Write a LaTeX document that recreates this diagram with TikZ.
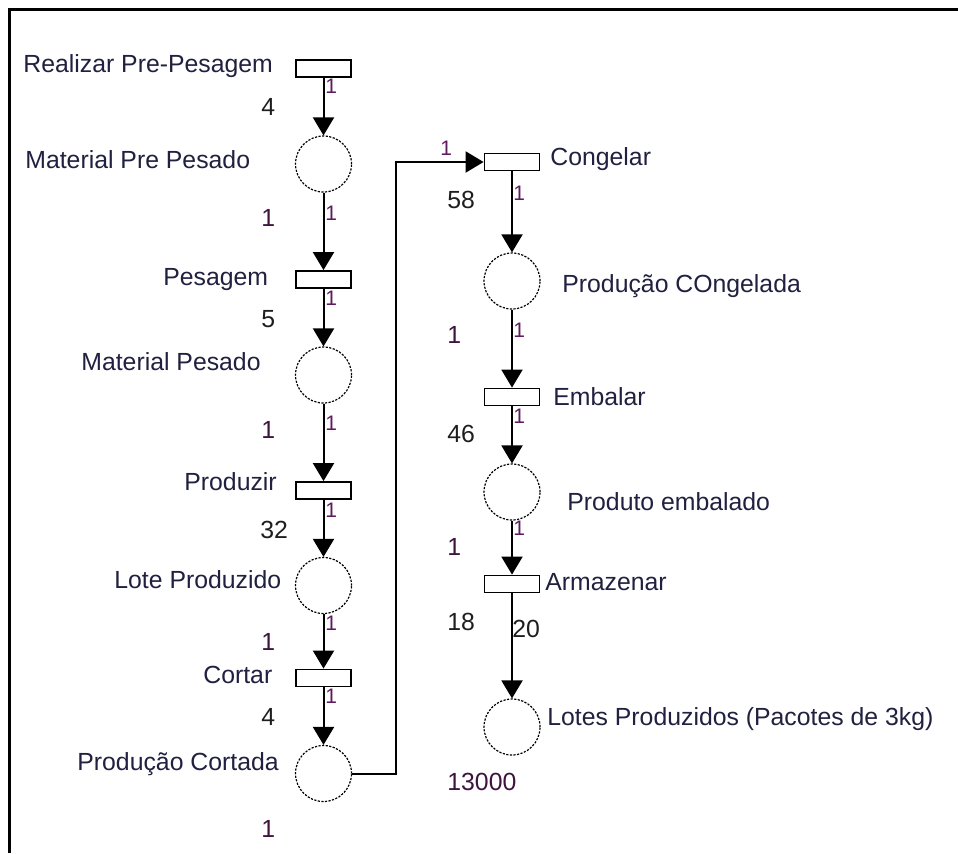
\documentclass[tikz,border=0pt]{standalone}
\usepackage{fontspec}
\setmainfont{Liberation Sans}
\usetikzlibrary{arrows.meta}
\definecolor{namecol}{HTML}{202040}
\definecolor{numcol}{HTML}{1E1E1E}
\definecolor{tokcol}{HTML}{3E143E}
\definecolor{wcol}{HTML}{5E1A5E}
\begin{document}
\begin{tikzpicture}[x=0.5pt,y=-0.5pt,
  trans/.style={draw, line width=0.9pt, minimum width=27.5pt, minimum height=8.5pt, inner sep=0pt, fill=white},
  place/.style={circle, draw, dash pattern=on 1.1pt off 0.7pt, line width=0.6pt, minimum size=28pt, inner sep=0pt},
  arc/.style={line width=1pt, -{Triangle[width=10.5pt,length=9pt]}},
  lbl/.style={anchor=base west, inner sep=0pt, text=namecol, font=\fontsize{12.4}{14}\selectfont},
  num/.style={anchor=base west, inner sep=0pt, text=numcol, font=\fontsize{12.4}{14}\selectfont},
  tok/.style={anchor=base west, inner sep=0pt, text=tokcol, font=\fontsize{12.4}{14}\selectfont},
  wgt/.style={anchor=base west, inner sep=0pt, text=wcol, font=\fontsize{10.5}{12}\selectfont}
]
\useasboundingbox (0,0) rectangle (958,853);
\fill[white] (0,0) rectangle (958,853);
\draw[line width=1.5pt] (9,853) -- (9,9) -- (958,9);

% left column
\node[trans] (T1) at (323.5,68.5) {};
\node[place] (P1) at (323.5,164) {};
\node[trans] (T2) at (323.5,279.5) {};
\node[place] (P2) at (323.5,375) {};
\node[trans] (T3) at (323.5,490.5) {};
\node[place] (P3) at (323.5,585.5) {};
\node[trans] (T4) at (323.5,678) {};
\node[place] (P4) at (323.5,773.5) {};
% right column
\node[trans] (T5) at (512,162) {};
\node[place] (P5) at (512,281) {};
\node[trans] (T6) at (512,397) {};
\node[place] (P6) at (512,492) {};
\node[trans] (T7) at (512,584) {};
\node[place] (P7) at (512,727) {};

\coordinate (c1) at (396,773.5);
\coordinate (c2) at (396,162);

\draw[arc] (T1) -- (P1);
\draw[arc] (P1) -- (T2);
\draw[arc] (T2) -- (P2);
\draw[arc] (P2) -- (T3);
\draw[arc] (T3) -- (P3);
\draw[arc] (P3) -- (T4);
\draw[arc] (T4) -- (P4);
\draw[arc] (P4.east) -- (c1) -- (c2) -- (T5.west);
\draw[arc] (T5) -- (P5);
\draw[arc] (P5) -- (T6);
\draw[arc] (T6) -- (P6);
\draw[arc] (P6) -- (T7);
\draw[arc] (T7) -- (P7);

% names
\node[lbl] (n1) at (23,72) {Realizar Pre-Pesagem};
\node[lbl] (n2) at (25,168) {Material Pre Pesado};
\node[lbl] (n3) at (163,285) {Pesagem};
\node[lbl] (n4) at (81,370) {Material Pesado};
\node[lbl] (n5) at (184,490) {Produzir};
\node[lbl] (n6) at (114,588) {Lote Produzido};
\node[lbl] (n7) at (203,683) {Cortar};
\node[lbl] (n8) at (77,770) {Produção Cortada};
\node[lbl] (n9) at (550,165) {Congelar};
\node[lbl] (n10) at (562,292) {Produção COngelada};
\node[lbl] (n11) at (553,405) {Embalar};
\node[lbl] (n12) at (567,510) {Produto embalado};
\node[lbl] (n13) at (545,590) {Armazenar};
\node[lbl] (n14) at (547,725) {Lotes Produzidos (Pacotes de 3kg)};

% transition times
\node[num] (d1) at (261,115) {4};
\node[num] (d2) at (261,327) {5};
\node[num] (d3) at (260,538) {32};
\node[num] (d4) at (261,725) {4};
\node[num] (d5) at (447,208) {58};
\node[num] (d6) at (447,442) {46};
\node[num] (d7) at (447,630) {18};

% tokens
\node[tok] (k1) at (261,226) {1};
\node[tok] (k2) at (261,438) {1};
\node[tok] (k3) at (261,650) {1};
\node[tok] (k4) at (261,837) {1};
\node[tok] (k5) at (447,343) {1};
\node[tok] (k6) at (447,555) {1};
\node[tok] (k7) at (447,790) {13000};

% arc weights
\node[wgt] (w1) at (325,93) {1};
\node[wgt] (w2) at (325,220) {1};
\node[wgt] (w3) at (325,305) {1};
\node[wgt] (w4) at (325,430) {1};
\node[wgt] (w5) at (325,517) {1};
\node[wgt] (w6) at (325,630) {1};
\node[wgt] (w7) at (325,703) {1};
\node[wgt] (w8) at (440,155) {1};
\node[wgt] (w9) at (513,200) {1};
\node[wgt] (w10) at (513,337) {1};
\node[wgt] (w11) at (513,423) {1};
\node[wgt] (w12) at (513,535) {1};
\node[num] (w13) at (512,637) {20};
\end{tikzpicture}
\end{document}
